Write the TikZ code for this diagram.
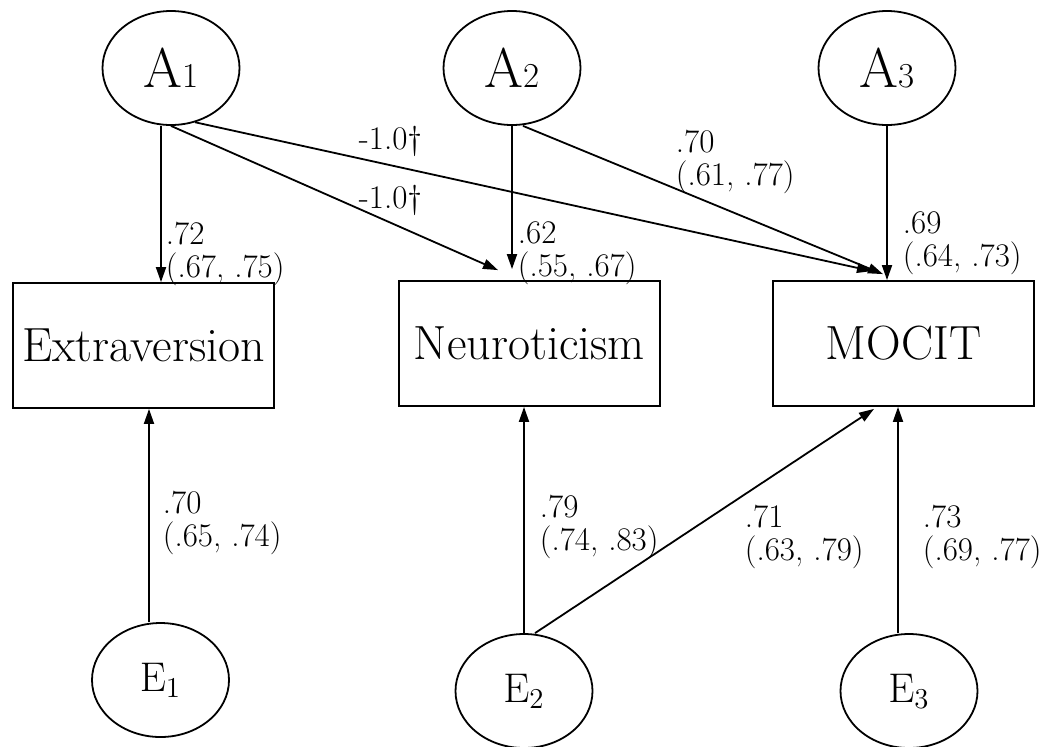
\documentclass[tikz,border=0pt]{standalone}
\usepackage{amsmath}
\usepackage{tikz}
\usetikzlibrary{shapes.geometric,arrows.meta}

\begin{document}
\begin{tikzpicture}[x=0.5pt, y=-0.5pt, line width=0.9pt,
  latent/.style={draw, ellipse, inner sep=0pt, minimum width=68.5pt, minimum height=57pt},
  factor/.style={latent, font=\fontsize{28}{28}\selectfont},
  resid/.style={latent, font=\fontsize{21}{21}\selectfont},
  trait/.style={draw, rectangle, inner sep=0pt, minimum width=130.5pt, minimum height=62.5pt, font=\fontsize{24}{24}\selectfont},
  effect/.style={-{Triangle[length=7.5pt,width=5pt]}},
  coef/.style={inner sep=0pt, align=left, font=\fontsize{16.5}{16.5}\selectfont}]
  \useasboundingbox (0,0) rectangle (1043,746);
  \foreach \n/\x in {1/171,2/512,3/887} {
    \node[factor] (A\n) at (\x,68) {A{\fontsize{17.5}{17.5}\selectfont\n}};
  }
  \node[trait] (Ex) at (143.5,345.5) {Extraversion};
  \node[trait] (Ne) at (529.5,343.5) {Neuroticism};
  \node[trait] (Mo) at (903.5,343.5) {MOCIT};
  \foreach \n/\x/\y in {1/160.5/680,2/524/691,3/909/691} {
    \node[resid] (E\n) at (\x,\y) {$\mathrm{E}_\n$};
  }
  % paths from the factors
  \draw[effect] ([xshift=-5pt]A1.south) -- ([xshift=-5pt]A1.south |- Ex.north);
  \draw[effect] (A1.south) -- ([xshift=-15.75pt,yshift=5pt]Ne.north);
  \draw[effect] (A1.-66) -- ([xshift=-15.75pt,yshift=4.5pt]Mo.north);
  \draw[effect] (A2.south) -- ([xshift=-8.75pt,yshift=5.5pt]Ne.north);
  \draw[effect] ([xshift=5.5pt]A2.south) -- ([xshift=-10.25pt,yshift=3pt]Mo.north);
  \draw[effect] (A3.south) -- (A3.south |- Mo.north);
  % paths from the residuals
  \draw[effect] ([xshift=-5.75pt]E1.north) -- ([xshift=-5.75pt]E1.north |- Ex.south);
  \draw[effect] (E2.north) -- (E2.north |- Ne.south);
  \draw[effect] ([xshift=5.5pt]E2.north) -- ([xshift=-14.75pt,yshift=-1pt]Mo.south);
  \draw[effect] ([xshift=-5.5pt]E3.north) -- ([xshift=-5.5pt]E3.north |- Mo.south);
  % coefficients
  \foreach \nm/\y in {cAMo/149.8,cANe/208.8} {
    \node[coef, anchor=base west] (\nm) at (358,\y) {-1.0\textdagger};
  }
  \foreach \nm/\x/\y/\val/\ci in {cAEx/165/221/.72/{(.67, .75)}, cBNe/517/221/.62/{(.55, .67)},
      cBMo/675/129/.70/{(.61, .77)}, cCMo/902/211/.69/{(.64, .73)},
      cEEx/162/490/.70/{(.65, .74)}, cENe/539/494/.79/{(.74, .83)},
      cEMo/744/504/.71/{(.63, .79)}, cFMo/922/504/.73/{(.69, .77)}} {
    \node[coef, anchor=north west] (\nm) at (\x,\y) {\val\\\ci};
  }
\end{tikzpicture}
\end{document}
